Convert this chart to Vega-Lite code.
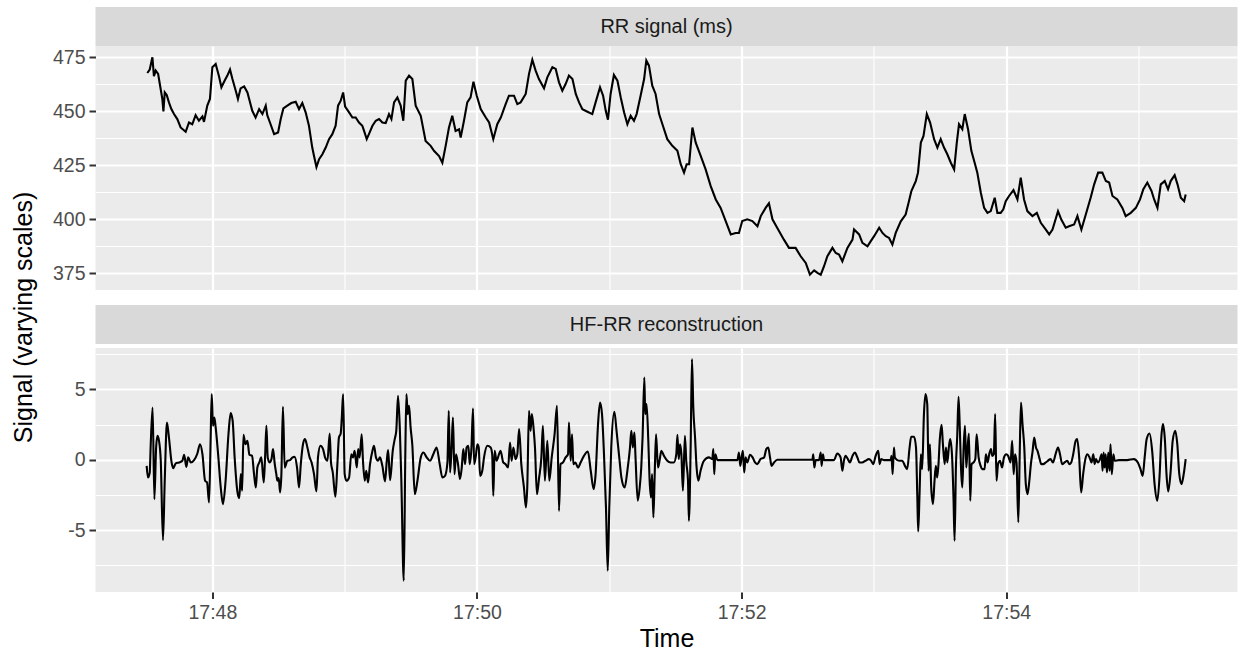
{
 "$schema": "https://vega.github.io/schema/vega-lite/v6.json",
 "padding": {"left": 5, "top": 7, "right": 1, "bottom": 2},
 "background": "white",
 "config": {
  "font": "Liberation Sans",
  "view": {"stroke": null},
  "axis": {"domain": false, "labelFont": "Liberation Sans", "labelColor": "#4D4D4D", "labelFontSize": 19.5, "tickColor": "#333333", "gridColor": "#FFFFFF", "titleFont": "Liberation Sans", "titleFontWeight": "normal", "titleColor": "#000000", "labelOverlap": false, "labelFlush": false}
 },
 "datasets": {
  "rr": [
{"t":30.5,"v":467.7},{"t":31.6,"v":469.3},{"t":32.8,"v":475.0},{"t":33.5,"v":466.2},{"t":34.3,"v":468.8},{"t":35.4,"v":467.3},{"t":36.3,"v":461.8},{"t":37.3,"v":455.7},{"t":37.8,"v":449.9},{"t":38.4,"v":458.7},{"t":39.3,"v":457.5},{"t":40.3,"v":454.1},{"t":41.4,"v":451},{"t":42.6,"v":448.7},{"t":44.1,"v":446.4},{"t":45.6,"v":442.5},{"t":47.9,"v":440.5},{"t":49.4,"v":444.8},{"t":50.9,"v":444},{"t":52.4,"v":448.2},{"t":53.9,"v":445.6},{"t":55.5,"v":447.6},{"t":56.2,"v":445.1},{"t":57.7,"v":452.6},{"t":58.9,"v":455.7},{"t":60.0,"v":470.4},{"t":61.5,"v":471.9},{"t":63.0,"v":466.2},{"t":64.1,"v":461.1},{"t":65.6,"v":464.2},{"t":66.8,"v":466.5},{"t":68.0,"v":469.3},{"t":69.1,"v":464.9},{"t":70.6,"v":459.5},{"t":71.6,"v":455.7},{"t":72.8,"v":460.6},{"t":74.4,"v":461.5},{"t":75.9,"v":458.7},{"t":77.1,"v":454.1},{"t":78.1,"v":450.2},{"t":79.6,"v":447.1},{"t":81.2,"v":451},{"t":82.7,"v":448.7},{"t":84.2,"v":452.6},{"t":84.9,"v":448.2},{"t":86.4,"v":444},{"t":88.0,"v":439.4},{"t":89.8,"v":440.2},{"t":91.0,"v":446.4},{"t":92.2,"v":451.3},{"t":94.0,"v":452.6},{"t":95.8,"v":453.8},{"t":97.8,"v":454.4},{"t":99.3,"v":451},{"t":100.8,"v":453.8},{"t":102.3,"v":449.5},{"t":103.8,"v":443.3},{"t":105.3,"v":433.2},{"t":106.1,"v":429.3},{"t":107.2,"v":424.2},{"t":108.4,"v":427.8},{"t":109.9,"v":430.1},{"t":111.4,"v":433.2},{"t":112.9,"v":437.1},{"t":114.4,"v":439.4},{"t":115.9,"v":443.3},{"t":117.0,"v":452.6},{"t":118.2,"v":454.9},{"t":119.3,"v":458.7},{"t":120.2,"v":452.2},{"t":122.0,"v":449.5},{"t":123.5,"v":447.1},{"t":125.0,"v":447.1},{"t":126.5,"v":444.8},{"t":128.0,"v":443.3},{"t":128.8,"v":440.9},{"t":130.0,"v":437.1},{"t":131.0,"v":439.4},{"t":132.6,"v":443.3},{"t":134.1,"v":445.6},{"t":135.6,"v":446.4},{"t":137.1,"v":444.8},{"t":138.6,"v":444.5},{"t":140.1,"v":448.7},{"t":141.2,"v":446.4},{"t":142.4,"v":454.1},{"t":143.9,"v":456.4},{"t":145.4,"v":452.6},{"t":146.6,"v":445.6},{"t":147.7,"v":464.2},{"t":149.2,"v":466.5},{"t":150.7,"v":464.9},{"t":152.2,"v":452.6},{"t":154.5,"v":447.9},{"t":156.7,"v":436.3},{"t":159.0,"v":434},{"t":160.5,"v":431.7},{"t":162.8,"v":429.3},{"t":164.3,"v":426.2},{"t":165.8,"v":434},{"t":167.3,"v":442.5},{"t":168.8,"v":447.9},{"t":170.3,"v":440.9},{"t":171.9,"v":441.7},{"t":172.6,"v":437.8},{"t":174.1,"v":445.6},{"t":175.6,"v":454.1},{"t":177.1,"v":456.4},{"t":178.4,"v":463.7},{"t":179.9,"v":457.2},{"t":181.7,"v":451},{"t":184.0,"v":447.1},{"t":185.5,"v":444.8},{"t":187.4,"v":437.1},{"t":189.2,"v":444},{"t":190.8,"v":447.1},{"t":193.0,"v":453.3},{"t":194.5,"v":457.2},{"t":196.8,"v":457.2},{"t":198.3,"v":453.3},{"t":199.8,"v":454.1},{"t":202.1,"v":458},{"t":203.6,"v":467.3},{"t":205.1,"v":473.8},{"t":206.6,"v":468.8},{"t":208.1,"v":464.9},{"t":210.4,"v":460.6},{"t":211.9,"v":465.7},{"t":214.2,"v":470.4},{"t":215.7,"v":469.6},{"t":217.2,"v":463.4},{"t":218.7,"v":459.5},{"t":220.2,"v":462.6},{"t":221.7,"v":466.5},{"t":223.3,"v":464.9},{"t":224.8,"v":458},{"t":226.3,"v":454.1},{"t":227.8,"v":451},{"t":230.1,"v":449.8},{"t":232.3,"v":448.7},{"t":233.8,"v":454.1},{"t":235.8,"v":461.1},{"t":237.2,"v":457.2},{"t":238.4,"v":450.2},{"t":239.4,"v":446.1},{"t":240.6,"v":458},{"t":242.1,"v":466.8},{"t":243.7,"v":464.2},{"t":245.2,"v":456.4},{"t":246.7,"v":449.5},{"t":248.2,"v":444},{"t":249.7,"v":447.9},{"t":251.2,"v":445.6},{"t":252.4,"v":448.7},{"t":254.2,"v":457.2},{"t":255.8,"v":464.9},{"t":256.8,"v":473.5},{"t":258.0,"v":471.1},{"t":259.5,"v":461.8},{"t":261.0,"v":458},{"t":262.6,"v":448.7},{"t":264.1,"v":444},{"t":266.3,"v":437.1},{"t":268.6,"v":434},{"t":270.9,"v":431.7},{"t":272.4,"v":425.5},{"t":273.9,"v":421.6},{"t":275.1,"v":425.5},{"t":276.2,"v":425.5},{"t":277.7,"v":442.5},{"t":279.2,"v":435.5},{"t":281.5,"v":429.3},{"t":283.7,"v":423.1},{"t":286.0,"v":415.4},{"t":288.3,"v":409.2},{"t":290.5,"v":405.3},{"t":292.8,"v":399.2},{"t":295.1,"v":393},{"t":297.3,"v":393.7},{"t":298.8,"v":393.7},{"t":300.3,"v":399.2},{"t":302.6,"v":400},{"t":304.9,"v":399.2},{"t":307.2,"v":396.8},{"t":308.7,"v":401.5},{"t":310.9,"v":405.3},{"t":312.4,"v":407.4},{"t":314.0,"v":400},{"t":316.2,"v":396},{"t":319.2,"v":390.6},{"t":321.5,"v":386.8},{"t":324.5,"v":386.8},{"t":326.8,"v":382.9},{"t":329.1,"v":379.8},{"t":331.0,"v":374.4},{"t":332.9,"v":376.4},{"t":334.4,"v":375.2},{"t":335.9,"v":374.4},{"t":337.4,"v":378.3},{"t":338.9,"v":382.9},{"t":341.2,"v":386.8},{"t":342.7,"v":384.4},{"t":344.2,"v":383.7},{"t":345.7,"v":380.6},{"t":348.0,"v":386.8},{"t":350.3,"v":390.6},{"t":351.0,"v":395.3},{"t":353.3,"v":393},{"t":354.8,"v":389.1},{"t":357.1,"v":387.5},{"t":358.6,"v":389.9},{"t":360.1,"v":392.2},{"t":362.4,"v":396.1},{"t":363.9,"v":393.7},{"t":365.4,"v":392.2},{"t":366.9,"v":391.4},{"t":368.4,"v":388.3},{"t":369.9,"v":393.7},{"t":372.2,"v":399.1},{"t":374.4,"v":402.2},{"t":375.9,"v":408.4},{"t":377.0,"v":413.1},{"t":379.0,"v":417.7},{"t":380.0,"v":421.6},{"t":381.3,"v":435.5},{"t":382.5,"v":438.6},{"t":384.0,"v":448.7},{"t":385.5,"v":444.8},{"t":387.3,"v":437.1},{"t":388.8,"v":433.2},{"t":390.3,"v":437.1},{"t":391.8,"v":433.2},{"t":393.3,"v":430.1},{"t":394.9,"v":426.2},{"t":396.4,"v":423.1},{"t":397.6,"v":435.5},{"t":398.6,"v":444},{"t":400.1,"v":441.7},{"t":401.2,"v":448.7},{"t":402.7,"v":441.7},{"t":404.2,"v":431.7},{"t":405.7,"v":426.2},{"t":406.9,"v":421.6},{"t":408.5,"v":412.3},{"t":410.0,"v":405.3},{"t":411.5,"v":403},{"t":413.0,"v":403.8},{"t":414.8,"v":410},{"t":416.0,"v":403},{"t":417.5,"v":403},{"t":418.7,"v":404.6},{"t":419.8,"v":408.4},{"t":421.3,"v":410.8},{"t":423.3,"v":413.5},{"t":425.1,"v":409.2},{"t":426.6,"v":419.3},{"t":428.1,"v":409.2},{"t":429.6,"v":403.8},{"t":431.9,"v":401.5},{"t":433.9,"v":403},{"t":435.7,"v":398.4},{"t":437.9,"v":395.3},{"t":439.5,"v":393},{"t":441.0,"v":395.3},{"t":443.5,"v":403.8},{"t":445.0,"v":399.9},{"t":447.0,"v":396.1},{"t":448.5,"v":396.8},{"t":450.8,"v":397.6},{"t":452.3,"v":401.5},{"t":454.1,"v":395.3},{"t":456.1,"v":402.2},{"t":458.3,"v":410},{"t":459.9,"v":416.2},{"t":461.7,"v":421.6},{"t":463.6,"v":421.6},{"t":465.2,"v":417.7},{"t":466.7,"v":417},{"t":468.2,"v":410.8},{"t":470.4,"v":409.2},{"t":472.7,"v":405.3},{"t":474.2,"v":401.5},{"t":476.5,"v":403},{"t":478.8,"v":405.3},{"t":480.7,"v":409.2},{"t":482.2,"v":413.9},{"t":484.0,"v":417},{"t":485.9,"v":413.1},{"t":487.1,"v":409.2},{"t":488.6,"v":405.3},{"t":490.1,"v":416.2},{"t":491.9,"v":417.7},{"t":493.4,"v":413.9},{"t":494.6,"v":417.7},{"t":496.4,"v":420.4},{"t":497.7,"v":416.2},{"t":499.2,"v":410},{"t":500.7,"v":408.4},{"t":501.4,"v":411.5}
  ],
  "hf": [
{"t":30.2,"v":-0.43},{"t":30.8,"v":-1.26},{"t":31.6,"v":-0.9},{"t":32.0,"v":0.88},{"t":32.9,"v":3.72},{"t":33.7,"v":-2.8},{"t":34.5,"v":0.88},{"t":35.1,"v":1.71},{"t":35.8,"v":1.35},{"t":36.6,"v":-0.07},{"t":37.6,"v":-5.71},{"t":38.4,"v":-1.49},{"t":39.4,"v":2.65},{"t":40.3,"v":1.59},{"t":41.4,"v":-0.07},{"t":42.2,"v":-0.59},{"t":43.4,"v":-0.26},{"t":44.9,"v":-0.19},{"t":46.4,"v":-0.07},{"t":47.2,"v":0.36},{"t":48.2,"v":-0.5},{"t":49.0,"v":0.17},{"t":50.2,"v":-0.19},{"t":51.7,"v":-0.02},{"t":53.2,"v":0.45},{"t":54.4,"v":1.11},{"t":55.5,"v":0.4},{"t":56.7,"v":-1.49},{"t":57.6,"v":-1.61},{"t":58.5,"v":-3.03},{"t":59.2,"v":1.35},{"t":59.7,"v":4.67},{"t":60.3,"v":2.42},{"t":60.9,"v":3.01},{"t":61.5,"v":2.3},{"t":62.6,"v":0.4},{"t":63.8,"v":-1.97},{"t":64.8,"v":-3.15},{"t":66.0,"v":-1.49},{"t":67.3,"v":1.82},{"t":68.3,"v":3.32},{"t":69.2,"v":2.77},{"t":70.1,"v":0.17},{"t":71.3,"v":-2.2},{"t":72.2,"v":-2.73},{"t":72.9,"v":-1.02},{"t":73.5,"v":-2.2},{"t":74.1,"v":1.78},{"t":75.0,"v":1.11},{"t":75.9,"v":1.35},{"t":76.8,"v":0.36},{"t":78.0,"v":0.28},{"t":78.9,"v":-1.02},{"t":79.7,"v":-1.97},{"t":80.4,"v":-0.55},{"t":81.3,"v":-0.19},{"t":82.2,"v":0.17},{"t":83.3,"v":-1.61},{"t":83.9,"v":0.17},{"t":84.5,"v":2.42},{"t":85.1,"v":0.17},{"t":85.9,"v":-0.19},{"t":86.8,"v":0.05},{"t":87.5,"v":0.76},{"t":88.3,"v":-0.31},{"t":89.0,"v":-1.02},{"t":89.5,"v":-1.49},{"t":90.1,"v":-1.3},{"t":90.7,"v":-2.32},{"t":91.3,"v":-1.02},{"t":92.0,"v":3.77},{"t":92.8,"v":-0.55},{"t":94.0,"v":-0.07},{"t":95.2,"v":-0.02},{"t":96.4,"v":0.17},{"t":97.3,"v":0.21},{"t":98.4,"v":-0.55},{"t":99.3,"v":-1.97},{"t":100.1,"v":-0.31},{"t":101.1,"v":1.11},{"t":102.0,"v":1.47},{"t":103.1,"v":0.88},{"t":104.1,"v":0.17},{"t":105.0,"v":-0.19},{"t":106.1,"v":-1.02},{"t":107.2,"v":-2.25},{"t":107.9,"v":0.17},{"t":109.0,"v":1.0},{"t":110.2,"v":0.76},{"t":111.1,"v":0.17},{"t":112.2,"v":-0.07},{"t":113.2,"v":1.87},{"t":113.8,"v":-0.19},{"t":114.6,"v":-0.9},{"t":115.8,"v":-2.63},{"t":116.7,"v":-0.31},{"t":117.4,"v":1.59},{"t":118.2,"v":1.87},{"t":118.7,"v":3.01},{"t":119.3,"v":4.67},{"t":120.0,"v":-1.02},{"t":120.8,"v":-1.49},{"t":122.0,"v":-1.26},{"t":123.0,"v":0.4},{"t":123.8,"v":0.17},{"t":124.5,"v":0.64},{"t":125.5,"v":-0.55},{"t":126.1,"v":0.76},{"t":126.8,"v":0.17},{"t":127.7,"v":1.82},{"t":128.3,"v":-0.07},{"t":129.1,"v":-1.49},{"t":129.8,"v":-0.78},{"t":130.6,"v":-1.61},{"t":131.5,"v":-0.31},{"t":132.6,"v":0.64},{"t":133.3,"v":1.0},{"t":134.2,"v":0.17},{"t":135.1,"v":-0.07},{"t":136.0,"v":0.17},{"t":137.1,"v":-0.43},{"t":138.3,"v":-1.54},{"t":139.1,"v":-0.07},{"t":139.7,"v":0.69},{"t":140.6,"v":-1.45},{"t":141.8,"v":0.64},{"t":142.7,"v":1.47},{"t":143.4,"v":2.06},{"t":144.2,"v":4.55},{"t":145.0,"v":2.3},{"t":145.7,"v":-1.49},{"t":146.8,"v":-8.6},{"t":147.5,"v":0.4},{"t":148.0,"v":4.67},{"t":148.6,"v":3.25},{"t":149.2,"v":3.84},{"t":149.9,"v":2.3},{"t":150.7,"v":1.0},{"t":151.8,"v":-2.44},{"t":153.0,"v":-1.49},{"t":154.5,"v":0.17},{"t":155.7,"v":0.52},{"t":157.2,"v":0.17},{"t":158.7,"v":-0.07},{"t":160.2,"v":0.4},{"t":161.7,"v":0.88},{"t":163.1,"v":-0.31},{"t":164.3,"v":-1.26},{"t":165.5,"v":-1.14},{"t":166.6,"v":-0.19},{"t":167.2,"v":3.48},{"t":167.8,"v":-0.9},{"t":168.5,"v":0.88},{"t":169.1,"v":3.01},{"t":169.8,"v":-1.02},{"t":170.5,"v":0.4},{"t":171.4,"v":-0.31},{"t":172.3,"v":-1.37},{"t":173.1,"v":-0.55},{"t":173.8,"v":0.76},{"t":174.6,"v":-0.31},{"t":175.3,"v":0.88},{"t":176.1,"v":1.0},{"t":176.7,"v":-0.31},{"t":177.5,"v":0.88},{"t":178.2,"v":3.65},{"t":178.7,"v":-0.31},{"t":179.4,"v":0.17},{"t":180.2,"v":1.11},{"t":180.8,"v":0.88},{"t":181.4,"v":-1.14},{"t":182.4,"v":-0.78},{"t":183.2,"v":0.17},{"t":184.7,"v":1.0},
{"t":186.2,"v":0.88},{"t":186.9,"v":0.4},{"t":187.4,"v":-2.56},{"t":188.0,"v":0.64},{"t":188.9,"v":-0.07},{"t":190.0,"v":0.4},{"t":190.7,"v":0.64},{"t":191.9,"v":-0.19},{"t":193.0,"v":-0.31},{"t":194.1,"v":-0.55},{"t":195.0,"v":1.23},{"t":195.7,"v":-0.07},{"t":196.5,"v":0.88},{"t":197.5,"v":0.05},{"t":198.3,"v":0.4},{"t":199.1,"v":2.18},{"t":200.1,"v":-0.31},{"t":201.3,"v":-1.97},{"t":202.2,"v":-3.39},{"t":202.8,"v":-1.97},{"t":203.6,"v":3.48},{"t":204.3,"v":2.06},{"t":204.9,"v":3.25},{"t":205.7,"v":2.18},{"t":206.3,"v":0.88},{"t":207.2,"v":-2.44},{"t":208.1,"v":-1.37},{"t":209.2,"v":0.17},{"t":209.9,"v":2.42},{"t":210.8,"v":-1.49},{"t":211.9,"v":1.35},{"t":212.8,"v":-1.49},{"t":213.9,"v":0.17},{"t":215.2,"v":1.82},{"t":216.3,"v":3.84},{"t":217.2,"v":-3.63},{"t":217.9,"v":-0.31},{"t":219.0,"v":-0.19},{"t":220.2,"v":0.17},{"t":221.3,"v":0.4},{"t":221.7,"v":2.65},{"t":222.5,"v":-0.07},{"t":223.1,"v":1.82},{"t":223.7,"v":-0.31},{"t":224.6,"v":-0.19},{"t":225.8,"v":-0.55},{"t":227.0,"v":-0.19},{"t":228.5,"v":0.28},{"t":230.3,"v":0.59},{"t":231.6,"v":-0.78},{"t":232.9,"v":-2.09},{"t":233.8,"v":-1.02},{"t":234.9,"v":2.54},{"t":235.8,"v":4.08},{"t":236.7,"v":3.25},{"t":237.6,"v":0.4},{"t":238.5,"v":-3.39},{"t":239.3,"v":-7.89},{"t":240.0,"v":-3.39},{"t":240.9,"v":0.88},{"t":242.3,"v":3.41},{"t":243.3,"v":2.06},{"t":244.6,"v":0.05},{"t":245.5,"v":-1.26},{"t":247.0,"v":-1.97},{"t":248.2,"v":-0.78},{"t":249.4,"v":0.88},{"t":250.0,"v":2.06},{"t":250.7,"v":0.88},{"t":251.4,"v":1.94},{"t":251.9,"v":0.17},{"t":252.9,"v":-2.91},{"t":253.8,"v":-1.97},{"t":254.5,"v":-0.55},{"t":255.1,"v":1.59},{"t":255.9,"v":5.85},{"t":256.3,"v":3.25},{"t":256.9,"v":3.96},{"t":257.7,"v":1.35},{"t":258.3,"v":-1.49},{"t":258.9,"v":-2.68},{"t":259.4,"v":-1.02},{"t":260.0,"v":-4.1},{"t":260.6,"v":-1.02},{"t":261.2,"v":1.82},{"t":262.1,"v":-0.55},{"t":262.8,"v":-0.07},{"t":263.6,"v":0.64},{"t":264.8,"v":0.28},{"t":266.3,"v":-0.07},{"t":267.8,"v":-0.19},{"t":269.3,"v":-0.19},{"t":270.4,"v":0.4},{"t":270.9,"v":1.78},{"t":271.5,"v":0.05},{"t":272.1,"v":1.11},{"t":272.7,"v":0.4},{"t":273.4,"v":-2.2},{"t":274.3,"v":1.71},{"t":274.9,"v":-0.07},{"t":275.7,"v":-1.49},{"t":276.1,"v":-4.34},{"t":276.9,"v":0.88},{"t":277.5,"v":7.16},{"t":278.1,"v":3.72},{"t":278.9,"v":1.59},{"t":279.6,"v":-0.55},{"t":280.4,"v":-1.49},{"t":281.4,"v":-0.78},{"t":282.9,"v":-0.07},{"t":285.2,"v":0.17},{"t":286.7,"v":0.05},{"t":287.2,"v":0.76},{"t":287.6,"v":-1.02},{"t":288.1,"v":0.4},{"t":289.0,"v":-0.02},{"t":292.0,"v":-0.02},{"t":295.0,"v":-0.02},{"t":298.1,"v":-0.02},{"t":298.8,"v":0.52},{"t":299.4,"v":-0.43},{"t":300.0,"v":0.17},{"t":300.6,"v":0.64},{"t":301.2,"v":-0.9},{"t":301.8,"v":0.17},{"t":302.6,"v":-0.19},{"t":303.8,"v":0.36},{"t":305.0,"v":0.17},{"t":306.1,"v":-0.19},{"t":307.1,"v":-0.31},{"t":308.6,"v":0.05},{"t":310.2,"v":0.17},{"t":311.2,"v":0.76},{"t":312.1,"v":0.88},{"t":312.9,"v":0.17},{"t":313.6,"v":-0.43},{"t":314.7,"v":-0.19},{"t":316.2,"v":0},{"t":319.2,"v":0},{"t":325.3,"v":0},{"t":332.1,"v":0},{"t":332.5,"v":0.4},{"t":333.0,"v":-0.55},{"t":333.6,"v":-0.02},{"t":335.1,"v":-0.02},{"t":335.9,"v":0.52},{"t":336.3,"v":-0.43},{"t":336.9,"v":0.4},{"t":337.4,"v":-0.02},{"t":341.9,"v":-0.02},{"t":343.4,"v":0.45},
{"t":344.9,"v":0.17},{"t":345.7,"v":-0.78},{"t":346.4,"v":-0.07},{"t":347.2,"v":0.28},{"t":348.2,"v":0.05},{"t":349.1,"v":-0.19},{"t":350.3,"v":0.28},{"t":351.4,"v":0.52},{"t":352.5,"v":0.17},{"t":353.5,"v":-0.19},{"t":354.7,"v":-0.19},{"t":356.2,"v":-0.07},{"t":357.7,"v":0.05},{"t":358.8,"v":-0.07},{"t":359.7,"v":-0.31},{"t":360.8,"v":0.28},{"t":362.0,"v":0.64},{"t":362.6,"v":-0.31},{"t":363.3,"v":0.05},{"t":364.6,"v":-0.02},{"t":367.6,"v":-0.02},{"t":368.0,"v":0.28},{"t":368.5,"v":-1.02},{"t":369.1,"v":0.88},{"t":369.5,"v":0.17},{"t":370.6,"v":-0.02},{"t":371.8,"v":-0.07},{"t":372.9,"v":-0.07},{"t":374.1,"v":-0.43},{"t":375.1,"v":-0.66},{"t":376.2,"v":0.88},{"t":376.9,"v":1.64},{"t":378.2,"v":1.64},{"t":379.1,"v":0.88},{"t":379.7,"v":-2.68},{"t":380.1,"v":-5.09},{"t":380.7,"v":-2.44},{"t":381.3,"v":0.4},{"t":381.9,"v":-0.66},{"t":382.7,"v":3.25},{"t":383.4,"v":4.67},{"t":384.2,"v":3.96},{"t":384.8,"v":-0.78},{"t":385.4,"v":1.11},{"t":386.0,"v":-1.97},{"t":386.8,"v":-3.15},{"t":387.5,"v":-1.49},{"t":388.1,"v":-0.43},{"t":388.7,"v":-1.26},{"t":389.3,"v":-0.31},{"t":389.9,"v":1.47},{"t":390.7,"v":2.49},{"t":391.3,"v":1.11},{"t":392.1,"v":-0.31},{"t":392.7,"v":0.88},{"t":393.3,"v":-0.19},{"t":394.0,"v":0.88},{"t":394.6,"v":1.47},{"t":395.4,"v":0.4},{"t":396.1,"v":-2.68},{"t":396.6,"v":-5.76},{"t":397.2,"v":-0.55},{"t":397.8,"v":1.71},{"t":398.4,"v":4.48},{"t":399.0,"v":2.06},{"t":399.6,"v":-0.9},{"t":400.1,"v":-1.97},{"t":400.7,"v":0.88},{"t":401.3,"v":2.42},{"t":401.9,"v":-0.55},{"t":402.5,"v":0.88},{"t":403.1,"v":1.87},{"t":403.7,"v":-2.91},{"t":404.3,"v":-0.31},{"t":405.2,"v":-0.19},{"t":406.0,"v":0.05},{"t":406.6,"v":1.82},{"t":407.5,"v":0.17},{"t":408.4,"v":-0.43},{"t":409.1,"v":-0.66},{"t":410.2,"v":-0.66},{"t":410.8,"v":0.4},{"t":411.6,"v":-0.19},{"t":412.3,"v":0.4},{"t":413.1,"v":0.76},{"t":413.7,"v":0.28},{"t":414.4,"v":0.4},{"t":415.0,"v":3.25},{"t":415.6,"v":-1.49},{"t":416.3,"v":-0.31},{"t":417.2,"v":-0.07},{"t":418.1,"v":-0.55},{"t":419.0,"v":0.17},{"t":420.0,"v":0.4},{"t":420.9,"v":0.28},{"t":422.0,"v":-0.19},{"t":422.7,"v":1.35},{"t":423.4,"v":-1.02},{"t":424.0,"v":0.4},{"t":424.7,"v":-0.19},{"t":425.5,"v":-4.45},{"t":426.1,"v":0.17},{"t":426.7,"v":4.08},{"t":427.4,"v":2.54},{"t":428.2,"v":0.88},{"t":428.9,"v":-1.73},{"t":429.7,"v":-2.44},{"t":430.5,"v":-1.49},{"t":431.2,"v":-0.31},{"t":432.0,"v":0.64},{"t":432.7,"v":1.59},{"t":433.5,"v":0.88},{"t":434.2,"v":0.64},{"t":435.0,"v":0.17},{"t":435.9,"v":-0.31},{"t":436.8,"v":-0.31},{"t":437.9,"v":-0.19},{"t":438.9,"v":-0.07},{"t":440.1,"v":0.05},{"t":441.2,"v":-0.19},{"t":442.4,"v":0.4},{"t":443.5,"v":0.88},{"t":444.4,"v":0.4},{"t":445.4,"v":-0.31},{"t":446.5,"v":-0.19},{"t":447.7,"v":-0.07},{"t":448.6,"v":-0.31},{"t":449.5,"v":-0.19},{"t":450.4,"v":0.4},{"t":451.5,"v":1.35},{"t":452.2,"v":1.47},{"t":453.1,"v":0.17},{"t":454.0,"v":-2.32},{"t":454.9,"v":-1.02},{"t":455.9,"v":0.05},{"t":456.8,"v":0.4},{"t":457.8,"v":0.17},{"t":458.7,"v":-0.19},{"t":459.5,"v":0.4},{"t":460.1,"v":-0.31},{"t":460.7,"v":0.05},{"t":461.6,"v":-0.19},{"t":462.4,"v":-0.02},{"t":463.3,"v":0.4},{"t":463.7,"v":-0.78},{"t":464.2,"v":0.52},{"t":464.6,"v":-0.55},{"t":465.1,"v":0.4},{"t":465.7,"v":-0.9},{"t":466.3,"v":0.52},{"t":466.9,"v":-0.78},{"t":467.3,"v":1.11},{"t":467.9,"v":-1.02},{"t":468.6,"v":0.4},{"t":469.2,"v":-0.07},{"t":471.1,"v":-0.02},{"t":474.9,"v":-0.02},{"t":477.9,"v":0.05},{"t":479.7,"v":-0.19},{"t":480.9,"v":-0.66},{"t":481.9,"v":-1.14},{"t":482.8,"v":0.17},{"t":483.7,"v":1.47},{"t":485.0,"v":1.87},{"t":486.2,"v":0.64},{"t":487.3,"v":-1.73},{"t":488.5,"v":-2.91},{"t":489.6,"v":-1.02},{"t":490.3,"v":1.47},{"t":491.1,"v":2.54},{"t":492.0,"v":1.35},{"t":492.7,"v":-1.02},{"t":493.5,"v":-2.25},{"t":494.6,"v":-0.78},{"t":495.5,"v":1.35},{"t":496.7,"v":2.06},{"t":497.6,"v":1.11},{"t":498.5,"v":-1.02},{"t":499.5,"v":-1.73},{"t":500.5,"v":-1.02},{"t":501.4,"v":0.05}
  ]
 },
 "spacing": 8.5,
 "hconcat": [
  {
   "width": 38,
   "height": 621,
   "data": {"values": [{"label": "Signal (varying scales)"}]},
   "mark": {"type": "text", "angle": 270, "fontSize": 25, "color": "#000000", "font": "Liberation Sans"},
   "encoding": {"text": {"field": "label"}},
   "view": {"fill": null, "stroke": null}
  },
  {
   "spacing": 0,
   "vconcat": [
    {
     "width": 1142,
     "height": 39,
     "data": {"values": [{"panel": "RR signal (ms)"}]},
     "mark": {"type": "text", "fontSize": 20, "color": "#1A1A1A", "font": "Liberation Sans"},
     "encoding": {"text": {"field": "panel"}},
     "view": {"fill": "#D9D9D9", "stroke": null}
    },
    {
     "width": 1142,
     "height": 244,
     "data": {"name": "rr"},
     "mark": {"type": "line", "color": "#000000", "strokeWidth": 2.1},
     "encoding": {
      "x": {"field": "t", "type": "quantitative", "scale": {"domain": [7.0, 524.9], "nice": false, "zero": false},
            "axis": {"title": null, "values": [60, 120, 180, 240, 300, 360, 420, 480], "labels": false, "ticks": true, "tickSize": 14, "tickWidth": 1, "tickColor": "#FFFFFF", "grid": true,
                     "gridWidth": {"condition": {"test": "datum.value % 120 == 60", "value": 2.2}, "value": 1.1}}},
      "y": {"field": "v", "type": "quantitative", "scale": {"domain": [367.3, 480.2], "nice": false, "zero": false},
            "axis": {"title": null, "values": [375, 387.5, 400, 412.5, 425, 437.5, 450, 462.5, 475],
                     "labelExpr": "datum.value % 25 == 0 ? '' + datum.value : ''",
                     "tickSize": 6.5, "tickWidth": 2, "labelPadding": 4,
                     "tickOpacity": {"condition": {"test": "datum.value % 25 == 0", "value": 1}, "value": 0},
                     "gridWidth": {"condition": {"test": "datum.value % 25 == 0", "value": 2.2}, "value": 1.1}}}
     },
     "view": {"fill": "#EBEBEB", "stroke": null}
    },
    {
     "width": 1142,
     "height": 39,
     "data": {"values": [{"panel": "HF-RR reconstruction"}]},
     "mark": {"type": "text", "fontSize": 20, "color": "#1A1A1A", "font": "Liberation Sans"},
     "encoding": {"text": {"field": "panel"}},
     "view": {"fill": "#D9D9D9", "stroke": null}
    },
    {
     "width": 1142,
     "height": 244,
     "data": {"name": "hf"},
     "mark": {"type": "line", "color": "#000000", "strokeWidth": 2.1, "interpolate": "monotone"},
     "encoding": {
      "x": {"field": "t", "type": "quantitative", "scale": {"domain": [7.0, 524.9], "nice": false, "zero": false},
            "axis": {"title": "Time", "titleFontSize": 25, "titlePadding": 4, "values": [60, 120, 180, 240, 300, 360, 420, 480],
                     "labelExpr": "datum.value % 120 == 60 ? '17:' + (47 + datum.value / 60) : ''",
                     "tickSize": 6.5, "tickWidth": 2, "labelPadding": 5,
                     "tickOpacity": {"condition": {"test": "datum.value % 120 == 60", "value": 1}, "value": 0},
                     "gridWidth": {"condition": {"test": "datum.value % 120 == 60", "value": 2.2}, "value": 1.1}}},
      "y": {"field": "v", "type": "quantitative", "scale": {"domain": [-9.4, 7.95], "nice": false, "zero": false},
            "axis": {"title": null, "values": [-7.5, -5, -2.5, 0, 2.5, 5, 7.5],
                     "labelExpr": "datum.value % 5 == 0 ? '' + datum.value : ''",
                     "tickSize": 6.5, "tickWidth": 2, "labelPadding": 4,
                     "tickOpacity": {"condition": {"test": "datum.value % 5 == 0", "value": 1}, "value": 0},
                     "gridWidth": {"condition": {"test": "datum.value % 5 == 0", "value": 2.2}, "value": 1.1}}}
     },
     "view": {"fill": "#EBEBEB", "stroke": null}
    }
   ]
  }
 ]
}
